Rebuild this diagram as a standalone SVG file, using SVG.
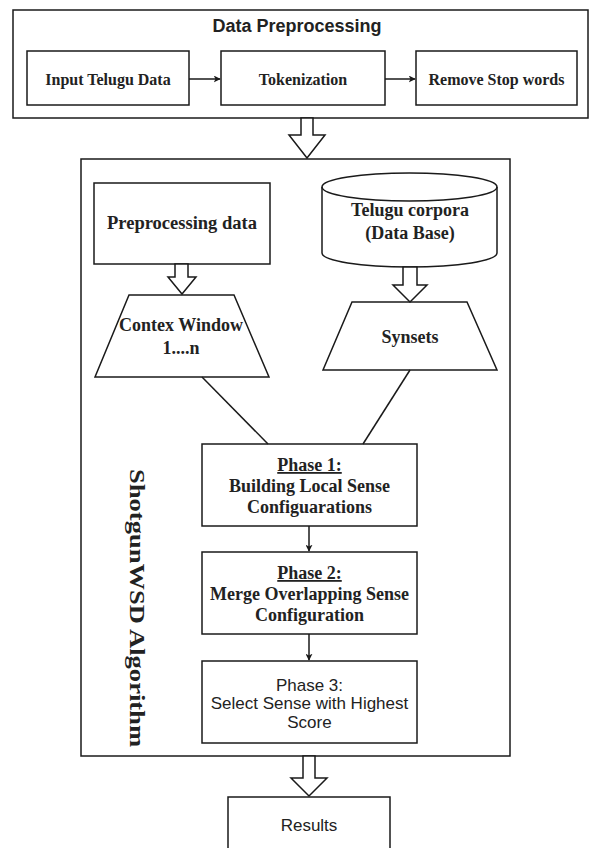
<svg xmlns="http://www.w3.org/2000/svg" width="589" height="848" viewBox="0 0 589 848">
<defs>
<style>
.box{fill:#fff;stroke:#1a1a1a;stroke-width:1.5}
.ln{fill:none;stroke:#1a1a1a;stroke-width:1.5}
.ha{fill:#fff;stroke:#1a1a1a;stroke-width:1.5;stroke-linejoin:miter}
.tr{font-family:"Liberation Serif","Times New Roman",serif;font-weight:bold;fill:#222;text-anchor:middle}
.sa{font-family:"Liberation Sans",Arial,sans-serif;fill:#222;text-anchor:middle}
</style>
<marker id="ah" viewBox="0 0 10 10" refX="9" refY="5" markerWidth="7" markerHeight="7" markerUnits="userSpaceOnUse" orient="auto">
<path d="M0,0 L10,5 L0,10 L2.5,5 Z" fill="#1a1a1a"/>
</marker>
</defs>
<rect width="589" height="848" fill="#fff"/>

<g id="data-preprocessing">
<rect class="box" x="13" y="10" width="575" height="108"/>
<text class="sa" x="297" y="32" font-size="18" font-weight="bold">Data Preprocessing</text>
</g>
<g id="input-telugu-data">
<rect class="box" x="27" y="51" width="162" height="54"/>
<text class="tr" x="108" y="84.5" font-size="16">Input Telugu Data</text>
</g>
<g id="tokenization">
<rect class="box" x="221" y="51" width="164" height="54"/>
<text class="tr" x="303" y="84.5" font-size="16">Tokenization</text>
</g>
<g id="remove-stop-words">
<rect class="box" x="416" y="51" width="161" height="54"/>
<text class="tr" x="496.5" y="84.5" font-size="16">Remove Stop words</text>
</g>

<g id="shotgun-wsd">
<rect class="box" x="81" y="159" width="429" height="597"/>
<text class="tr" transform="translate(130,608) rotate(90)" x="0" y="0" font-size="22" textLength="278" lengthAdjust="spacingAndGlyphs">ShotgunWSD Algorithm</text>
</g>

<g id="preprocessing-data">
<rect class="box" x="94" y="183" width="176" height="81"/>
<text class="tr" x="182" y="229" font-size="18.5">Preprocessing data</text>
</g>
<g id="telugu-corpora">
<path class="box" d="M322,187 A87.5,14 0 0 1 497,187 V253 A87.5,14 0 0 1 322,253 Z"/>
<path class="ln" d="M322,187 A87.5,14 0 0 0 497,187"/>
<text class="tr" x="410" y="216" font-size="18">Telugu corpora</text>
<text class="tr" x="410" y="239" font-size="18">(Data Base)</text>
</g>
<g id="contex-window">
<polygon class="box" points="129,295 234,295 269,377 95,377"/>
<text class="tr" x="181" y="331" font-size="18">Contex Window</text>
<text class="tr" x="181" y="354" font-size="18">1....n</text>
</g>
<g id="synsets">
<polygon class="box" points="352,302 467,302 497,370 323,370"/>
<text class="tr" x="410" y="343" font-size="18">Synsets</text>
</g>
<g id="phase1">
<rect class="box" x="202" y="444" width="215" height="82"/>
<text class="tr" x="309.5" y="471" font-size="18" text-decoration="underline">Phase 1:</text>
<text class="tr" x="309.5" y="492" font-size="18">Building Local Sense</text>
<text class="tr" x="309.5" y="513" font-size="18">Configuarations</text>
</g>
<g id="phase2">
<rect class="box" x="202" y="552" width="215" height="82"/>
<text class="tr" x="309.5" y="579" font-size="18" text-decoration="underline">Phase 2:</text>
<text class="tr" x="309.5" y="600" font-size="18">Merge Overlapping Sense</text>
<text class="tr" x="309.5" y="621" font-size="18">Configuration</text>
</g>
<g id="phase3">
<rect class="box" x="202" y="661" width="215" height="82"/>
<text class="sa" x="309.5" y="691" font-size="17">Phase 3:</text>
<text class="sa" x="309.5" y="709" font-size="17">Select Sense with Highest</text>
<text class="sa" x="309.5" y="728" font-size="17">Score</text>
</g>
<g id="results">
<rect class="box" x="228" y="797" width="162" height="70"/>
<text class="sa" x="309" y="831" font-size="17">Results</text>
</g>

<g id="connectors">
<line class="ln" x1="189" y1="79" x2="220" y2="79" marker-end="url(#ah)"/>
<line class="ln" x1="385" y1="79" x2="415" y2="79" marker-end="url(#ah)"/>
<polygon class="ha" points="301,118 313,118 313,135 325,135 307,158 289,135 301,135"/>
<polygon class="ha" points="175,264 188,264 188,277 196,277 182,294 168,277 175,277"/>
<polygon class="ha" points="403,267 417,267 417,285 427,285 410,302 393,285 403,285"/>
<polygon class="ha" points="303,756 315,756 315,778 327,778 309,796 291,778 303,778"/>
<line class="ln" x1="202" y1="377" x2="268" y2="444"/>
<line class="ln" x1="410" y1="370" x2="363" y2="444"/>
<line class="ln" x1="309" y1="526" x2="309" y2="551" marker-end="url(#ah)"/>
<line class="ln" x1="309" y1="634" x2="309" y2="660" marker-end="url(#ah)"/>
</g>
</svg>
